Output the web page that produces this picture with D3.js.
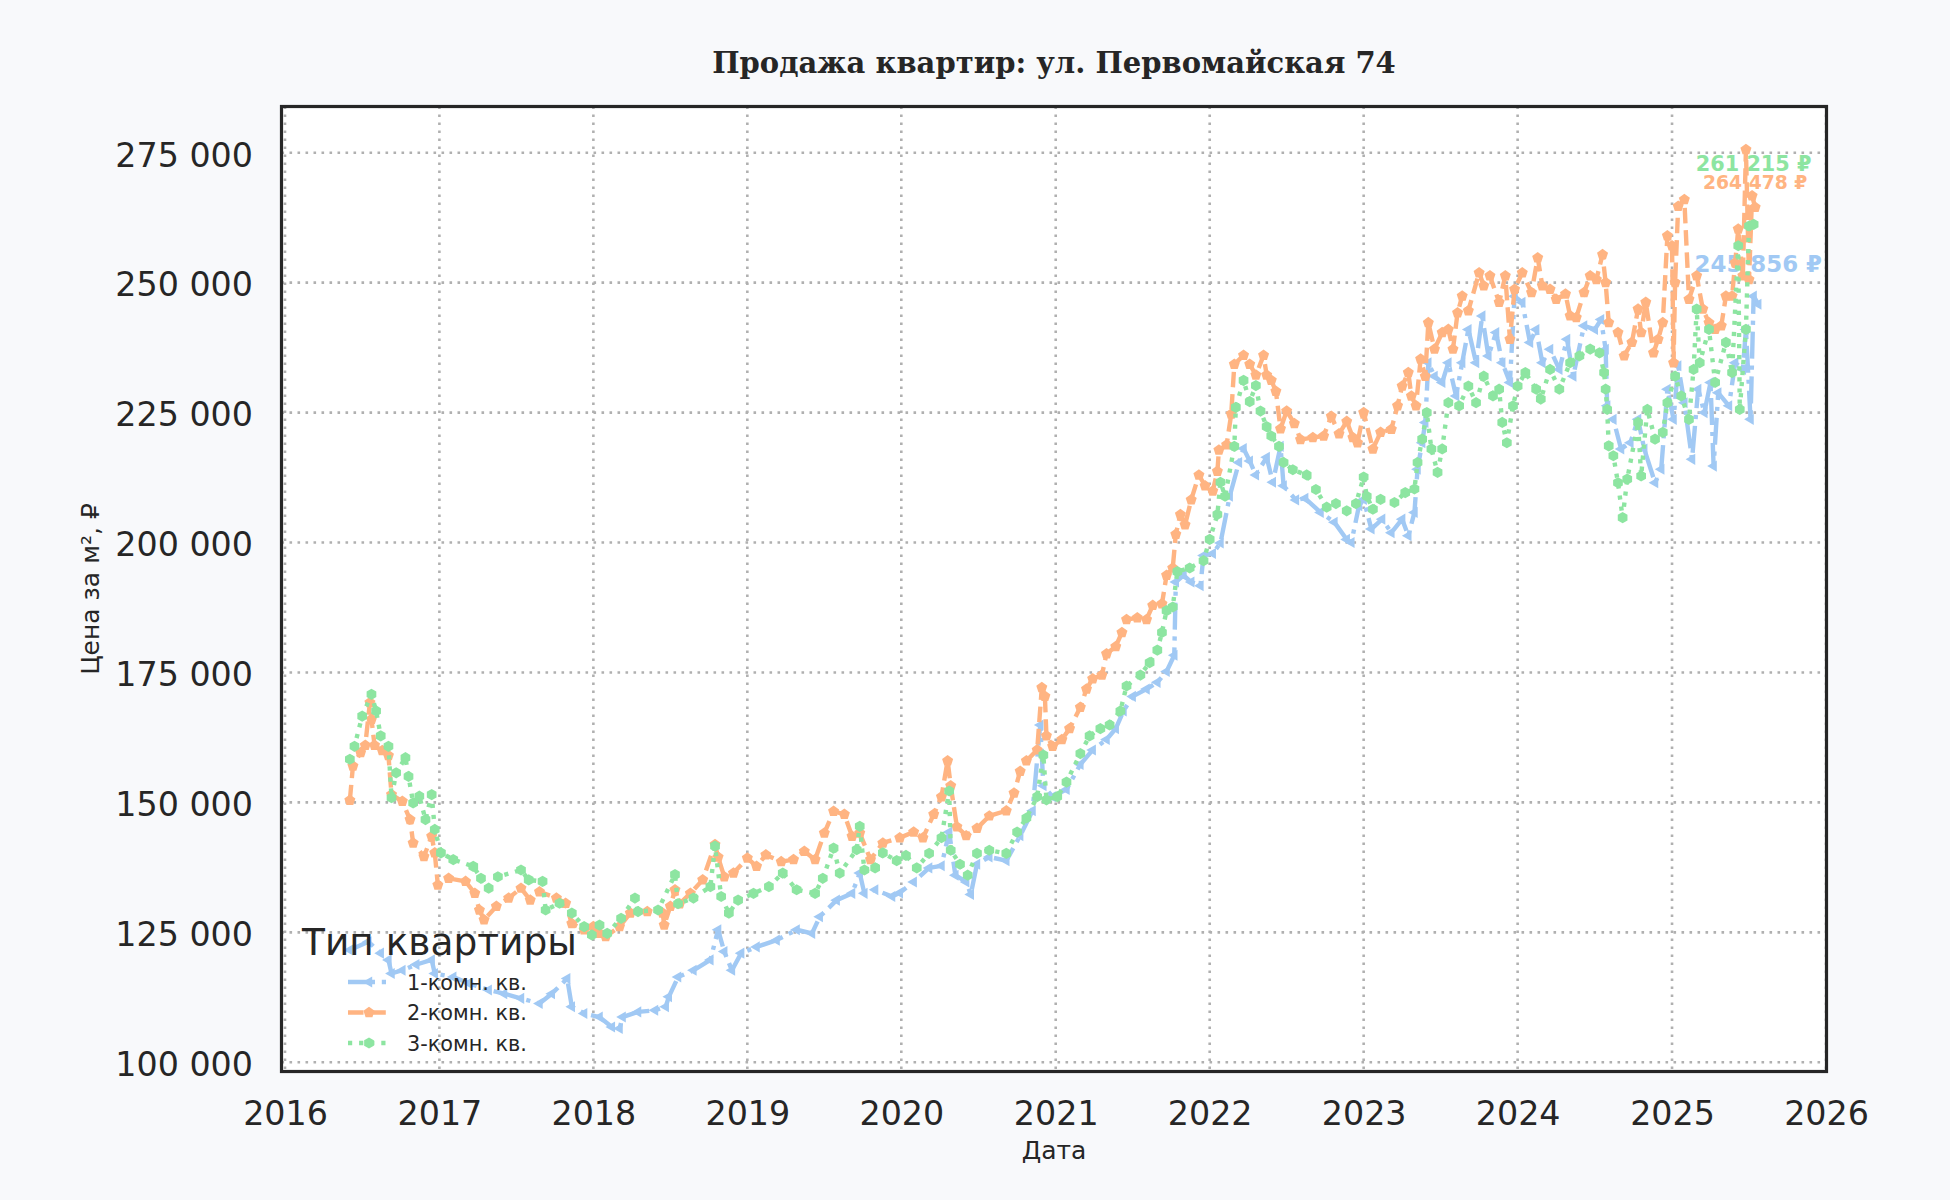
<!DOCTYPE html>
<html>
<head>
<meta charset="utf-8">
<script src="https://cdn.jsdelivr.net/npm/d3@7"></script>
<style>
    body { margin: 0; background: #f8f9fb; }
    svg { display: block; }
</style>
</head>
<body>
<div id="chart"></div>
<script>
const TITLE = "Продажа квартир: ул. Первомайская 74";
const X_LABEL = "Дата";
const Y_LABEL = "Цена за м², ₽";
const LEGEND_TITLE = "Тип квартиры";
const seriesNames = ["1-комн. кв.", "2-комн. кв.", "3-комн. кв."];
const yearTicks = [2016, 2017, 2018, 2019, 2020, 2021, 2022, 2023, 2024, 2025, 2026];
const priceTicks = [100000, 125000, 150000, 175000, 200000, 225000, 250000, 275000];

// [decimal year, price per m2]
const oneRoom = [
    [2016.42,121600],[2016.54,123200],[2016.62,121000],[2016.67,119700],[2016.69,117100],[2016.76,117700],
    [2016.85,118800],[2016.95,119700],[2016.97,117100],[2017.09,116400],[2017.19,115200],[2017.32,113900],
    [2017.42,113200],[2017.53,112300],[2017.65,111300],[2017.73,113200],[2017.83,116100],[2017.86,110700],
    [2017.94,109400],[2018.04,108700],[2018.12,106800],[2018.17,106500],[2018.19,108700],[2018.29,109700],
    [2018.40,110000],[2018.47,110700],[2018.49,112600],[2018.55,116400],[2018.65,117700],[2018.76,119700],
    [2018.81,125500],[2018.85,121300],[2018.90,117700],[2018.96,121000],[2019.06,122200],[2019.19,123500],
    [2019.32,125500],[2019.42,124800],[2019.47,128000],[2019.58,131200],[2019.68,132500],[2019.73,136400],
    [2019.76,132500],[2019.83,133200],[2019.94,131900],[2019.99,132600],[2020.08,134700],[2020.18,137400],
    [2020.26,137800],[2020.31,144300],[2020.35,136000],[2020.42,134700],[2020.45,132300],[2020.49,138100],
    [2020.57,139500],[2020.68,138800],[2020.77,143600],[2020.85,148400],[2020.90,164900],[2020.92,153200],
    [2020.98,151100],[2021.07,152500],[2021.16,157300],[2021.24,160100],[2021.33,162100],[2021.39,164200],
    [2021.44,167600],[2021.50,170400],[2021.59,171800],[2021.66,173100],[2021.72,175200],[2021.77,178300],
    [2021.78,192400],[2021.83,193700],[2021.88,192400],[2021.94,191700],[2021.96,197500],[2022.02,197900],
    [2022.07,199900],[2022.13,208900],[2022.19,215400],[2022.22,218100],[2022.26,215700],[2022.30,213000],
    [2022.37,216400],[2022.41,211600],[2022.46,218500],[2022.48,210900],[2022.56,208200],[2022.62,208500],
    [2022.72,205800],[2022.81,203900],[2022.89,200600],[2022.92,200000],[2022.97,207100],[2023.00,208300],
    [2023.05,202600],[2023.12,204500],[2023.18,201900],[2023.25,204500],[2023.29,201300],[2023.33,205800],
    [2023.35,214100],[2023.38,219200],[2023.40,223100],[2023.42,234600],[2023.46,232000],[2023.51,230800],
    [2023.55,234600],[2023.60,228200],[2023.64,234600],[2023.68,241000],[2023.73,234600],[2023.77,243600],
    [2023.81,235900],[2023.86,240400],[2023.90,234600],[2023.95,230800],[2023.98,247400],[2024.03,246200],
    [2024.08,238500],[2024.12,241000],[2024.16,234600],[2024.21,237200],[2024.27,233300],[2024.32,239100],
    [2024.36,232000],[2024.43,241700],[2024.50,241000],[2024.54,242900],[2024.57,237200],[2024.58,226300],
    [2024.62,223700],[2024.67,218000],[2024.73,219200],[2024.78,223700],[2024.82,218000],[2024.89,211500],
    [2024.93,214100],[2024.97,229500],[2025.01,223700],[2025.04,234000],[2025.08,226900],[2025.13,216000],
    [2025.17,229500],[2025.21,225000],[2025.25,230800],[2025.27,214700],[2025.30,228800],[2025.37,226300],
    [2025.41,234600],[2025.46,233300],[2025.48,241000],[2025.51,223700],[2025.53,247400],[2025.56,245856]
];

const twoRoom = [
    [2016.42,150400],[2016.44,157000],[2016.49,159600],[2016.52,161000],[2016.55,169200],[2016.56,166000],
    [2016.58,161000],[2016.63,160000],[2016.67,159000],[2016.69,151500],[2016.76,150200],[2016.81,146700],
    [2016.83,142200],[2016.90,139600],[2016.95,143500],[2016.97,140300],[2016.99,134100],[2017.06,135400],
    [2017.17,134800],[2017.23,132500],[2017.26,129300],[2017.29,127400],[2017.37,130000],[2017.45,131600],
    [2017.53,133500],[2017.59,131200],[2017.65,132800],[2017.76,131600],[2017.82,130600],[2017.86,126700],
    [2017.94,125500],[2018.00,126100],[2018.04,124800],[2018.08,124200],[2018.17,126100],[2018.24,128700],
    [2018.35,129000],[2018.45,128700],[2018.46,126400],[2018.50,130000],[2018.53,133200],[2018.56,130500],
    [2018.63,132500],[2018.71,135100],[2018.79,141900],[2018.81,139500],[2018.85,135700],[2018.91,136400],
    [2019.00,139300],[2019.06,137700],[2019.12,139900],[2019.22,138600],[2019.30,139000],[2019.37,140600],
    [2019.44,139000],[2019.50,144100],[2019.56,148300],[2019.63,147700],[2019.68,143500],[2019.73,144100],
    [2019.80,139000],[2019.88,142200],[2019.99,143200],[2020.08,144300],[2020.14,143200],[2020.21,147700],
    [2020.26,151100],[2020.30,158000],[2020.32,153200],[2020.36,145300],[2020.42,143600],[2020.49,145000],
    [2020.57,147400],[2020.68,148400],[2020.73,151800],[2020.77,156000],[2020.81,158000],[2020.88,160100],
    [2020.91,172100],[2020.93,170400],[2020.94,162800],[2020.98,160800],[2021.04,162100],[2021.09,164200],
    [2021.16,168300],[2021.20,171800],[2021.24,173800],[2021.30,174500],[2021.33,178600],[2021.39,180000],
    [2021.43,182700],[2021.46,185200],[2021.53,185500],[2021.59,185200],[2021.63,187900],[2021.69,188200],
    [2021.72,193700],[2021.76,195100],[2021.78,201600],[2021.81,205400],[2021.84,203400],[2021.88,208200],
    [2021.93,213000],[2021.97,210900],[2022.02,209900],[2022.05,213700],[2022.06,217800],[2022.11,218800],
    [2022.14,224700],[2022.16,234300],[2022.22,236000],[2022.26,234300],[2022.30,232200],[2022.35,236000],
    [2022.37,232200],[2022.40,231200],[2022.43,229100],[2022.46,221900],[2022.50,225300],[2022.55,222900],
    [2022.59,219800],[2022.67,220200],[2022.74,220500],[2022.79,224300],[2022.84,220900],[2022.89,223300],
    [2022.93,220200],[2022.96,219200],[2023.00,225000],[2023.06,218000],[2023.11,221200],[2023.18,221800],
    [2023.22,226300],[2023.25,230100],[2023.29,232700],[2023.31,228200],[2023.34,226300],[2023.37,235300],
    [2023.40,232000],[2023.42,242300],[2023.46,237200],[2023.51,240400],[2023.55,241000],[2023.58,237200],
    [2023.61,244200],[2023.64,247400],[2023.68,244600],[2023.75,251900],[2023.78,249400],[2023.82,251300],
    [2023.88,246200],[2023.92,251300],[2023.95,239100],[2023.98,248700],[2024.03,251900],[2024.09,248100],
    [2024.13,254800],[2024.16,249400],[2024.21,248700],[2024.25,246800],[2024.31,247800],[2024.34,243600],
    [2024.38,243300],[2024.43,248100],[2024.47,251300],[2024.51,250600],[2024.55,255400],[2024.57,250000],
    [2024.59,242300],[2024.65,240400],[2024.69,235900],[2024.74,238500],[2024.78,244900],[2024.80,240400],
    [2024.83,246200],[2024.88,236500],[2024.91,239100],[2024.94,242300],[2024.97,259000],[2025.00,257100],
    [2025.01,234600],[2025.02,250000],[2025.04,264700],[2025.08,266000],[2025.11,246800],[2025.16,251300],
    [2025.20,244900],[2025.24,242300],[2025.28,241000],[2025.32,241700],[2025.35,247400],[2025.39,247400],
    [2025.41,253800],[2025.43,260300],[2025.46,251300],[2025.48,275600],[2025.50,250600],[2025.52,266700],
    [2025.54,264478]
];

const threeRoom = [
    [2016.42,158300],[2016.45,160800],[2016.50,166600],[2016.56,170800],[2016.59,167600],[2016.62,162800],
    [2016.67,160800],[2016.69,150900],[2016.72,155700],[2016.78,158600],[2016.80,155000],[2016.83,149900],
    [2016.87,151200],[2016.91,146700],[2016.95,151500],[2016.97,144800],[2017.01,140300],[2017.09,139000],
    [2017.22,137700],[2017.27,135400],[2017.32,133500],[2017.38,135700],[2017.53,137000],[2017.58,135100],
    [2017.67,134800],[2017.69,129300],[2017.78,130600],[2017.86,128700],[2017.94,126100],[2017.99,124500],
    [2018.04,126400],[2018.09,124800],[2018.18,127700],[2018.27,131600],[2018.29,129000],[2018.42,129300],
    [2018.53,136100],[2018.55,130500],[2018.65,131600],[2018.76,133800],[2018.79,141600],[2018.83,131900],
    [2018.88,128700],[2018.94,131200],[2019.04,132500],[2019.14,133800],[2019.23,136400],[2019.32,133200],
    [2019.44,132500],[2019.49,135400],[2019.56,141200],[2019.60,136400],[2019.71,140900],[2019.73,145400],
    [2019.76,137000],[2019.83,137400],[2019.88,140300],[2019.97,138800],[2020.03,139800],[2020.10,137400],
    [2020.18,140200],[2020.26,143200],[2020.31,152200],[2020.32,140800],[2020.38,138100],[2020.43,136000],
    [2020.49,140200],[2020.57,140800],[2020.68,140200],[2020.75,144300],[2020.81,147000],[2020.88,151100],
    [2020.92,159100],[2020.94,150500],[2021.01,151100],[2021.07,153900],[2021.16,159400],[2021.22,162800],
    [2021.29,164200],[2021.35,164900],[2021.42,167600],[2021.46,172400],[2021.55,174500],[2021.61,176900],
    [2021.66,179300],[2021.69,182700],[2021.72,186900],[2021.76,187600],[2021.79,194400],[2021.87,195100],
    [2021.96,196500],[2022.00,200600],[2022.05,205400],[2022.07,211600],[2022.10,208900],[2022.16,218500],
    [2022.17,226000],[2022.22,231200],[2022.26,227100],[2022.30,230200],[2022.33,225300],[2022.37,222300],
    [2022.40,220500],[2022.45,218500],[2022.48,215400],[2022.54,214000],[2022.63,213000],[2022.69,210200],
    [2022.76,206800],[2022.82,207500],[2022.89,206100],[2022.95,207500],[2023.00,212600],[2023.02,208900],
    [2023.06,206400],[2023.11,208300],[2023.20,207700],[2023.27,209600],[2023.33,210300],[2023.35,215400],
    [2023.38,219900],[2023.41,225000],[2023.44,218000],[2023.48,213500],[2023.51,218000],[2023.55,226900],
    [2023.62,226300],[2023.68,230100],[2023.73,226900],[2023.78,232000],[2023.84,228200],[2023.88,229500],
    [2023.90,223100],[2023.93,219200],[2023.97,226300],[2024.00,230100],[2024.05,232700],[2024.12,229500],
    [2024.15,227600],[2024.21,233300],[2024.27,229500],[2024.34,234600],[2024.40,235900],[2024.47,237200],
    [2024.53,236500],[2024.56,232700],[2024.57,229500],[2024.58,225600],[2024.59,218600],[2024.62,216700],
    [2024.65,211500],[2024.68,204800],[2024.71,212200],[2024.78,223100],[2024.80,212800],[2024.84,225600],
    [2024.89,219900],[2024.94,221200],[2024.97,226900],[2025.02,232000],[2025.06,228200],[2025.11,223700],
    [2025.14,233300],[2025.16,244900],[2025.18,234600],[2025.24,241000],[2025.28,230800],[2025.35,238500],
    [2025.39,232700],[2025.43,257100],[2025.44,225600],[2025.48,241000],[2025.50,260900],[2025.53,261215]
];

const COLORS = ["#a1c9f4", "#ffb482", "#8de5a1"];
const DASHES = ["27 6.8 4.2 6.8", "15.5 6.8", "4.2 6.9"];
const MARKERS = ["triangleLeft", "pentagon", "hexagon"];
// label styling for the last-value annotations (font px, vertical shift px)
const LAST_LABEL = [
    { size: 22.9, shift: -40 },
    { size: 18.75, shift: -25 },
    { size: 20.8, shift: -61 }
];
const TEXT_COLOR = "#262626";

const width = 1950;
const height = 1200;
const frame = { left: 281.5, top: 106.5, right: 1826.5, bottom: 1071.5 };

function toDate(t) {
    const yr = Math.floor(t);
    const a = Date.UTC(yr, 0, 1), b = Date.UTC(yr + 1, 0, 1);
    return new Date(a + (t - yr) * (b - a));
}

const ru = d3.formatLocale({ decimal: ",", thousands: "\u00a0", grouping: [3], currency: ["", " ₽"] });
const fmt = ru.format(",d");

const x = d3.scaleUtc()
    .domain([toDate(2016), toDate(2026)])
    .range([285, 1826]);

const y = d3.scaleLinear()
    .domain([100000, 275000])
    .range([1062.3, 152.7]);

function polygon(n, r, start) {
    const pts = d3.range(n).map(i => {
        const a = start + i * 2 * Math.PI / n;
        return [r * Math.cos(a), r * Math.sin(a)];
    });
    return "M" + pts.map(p => p[0].toFixed(2) + "," + p[1].toFixed(2)).join("L") + "Z";
}

const markerPath = {
    triangleLeft: polygon(3, 6.4, Math.PI),
    pentagon: polygon(5, 5.8, -Math.PI / 2),
    hexagon: polygon(6, 5.6, -Math.PI / 2)
};

const svg = d3.select("#chart")
    .append("svg")
    .attr("width", width)
    .attr("height", height)
    .style("font-family", "DejaVu Sans");

svg.append("rect")
    .attr("width", width)
    .attr("height", height)
    .attr("fill", "#f8f9fb");

svg.append("rect")
    .attr("x", frame.left)
    .attr("y", frame.top)
    .attr("width", frame.right - frame.left)
    .attr("height", frame.bottom - frame.top)
    .attr("fill", "#ffffff");

// grid
const grid = svg.append("g")
    .attr("stroke", "#b0b0b0")
    .attr("stroke-width", 2.6)
    .attr("stroke-dasharray", "2.6 5.4");

grid.selectAll("line.v")
    .data(yearTicks)
    .join("line")
    .attr("class", "v")
    .attr("x1", d => x(toDate(d)))
    .attr("x2", d => x(toDate(d)))
    .attr("y1", frame.top)
    .attr("y2", frame.bottom);

grid.selectAll("line.h")
    .data(priceTicks)
    .join("line")
    .attr("class", "h")
    .attr("x1", frame.left)
    .attr("x2", frame.right)
    .attr("y1", d => y(d))
    .attr("y2", d => y(d));

// axes (labels only, no tick marks)
const xAxis = d3.axisBottom(x)
    .tickValues(yearTicks.map(toDate))
    .tickFormat(d3.utcFormat("%Y"))
    .tickSize(0)
    .tickPadding(0);

svg.append("g")
    .attr("transform", "translate(0," + 1101 + ")")
    .call(xAxis)
    .call(g => g.select(".domain").remove())
    .selectAll("text")
    .attr("fill", TEXT_COLOR)
    .attr("font-family", "DejaVu Sans")
    .attr("font-size", 33.3)
    .attr("dy", "0.72em");

const yAxis = d3.axisLeft(y)
    .tickValues(priceTicks)
    .tickFormat(fmt)
    .tickSize(0)
    .tickPadding(0);

svg.append("g")
    .attr("transform", "translate(" + 253 + ",0)")
    .call(yAxis)
    .call(g => g.select(".domain").remove())
    .selectAll("text")
    .attr("fill", TEXT_COLOR)
    .attr("font-family", "DejaVu Sans")
    .attr("font-size", 33.3)
    .attr("dy", "0.40em");

svg.append("text")
    .attr("x", 1054)
    .attr("y", 1159)
    .attr("text-anchor", "middle")
    .attr("font-size", 25)
    .attr("fill", TEXT_COLOR)
    .text(X_LABEL);

svg.append("text")
    .attr("transform", "translate(" + 99 + "," + 589 + ") rotate(-90)")
    .attr("text-anchor", "middle")
    .attr("font-size", 25)
    .attr("fill", TEXT_COLOR)
    .text(Y_LABEL);

svg.append("text")
    .attr("x", 1054)
    .attr("y", 73)
    .attr("text-anchor", "middle")
    .attr("font-family", "DejaVu Serif")
    .attr("font-weight", "bold")
    .attr("font-size", 29)
    .attr("fill", TEXT_COLOR)
    .text(TITLE);

const allSeries = [oneRoom, twoRoom, threeRoom];

// last value labels (sit under the lines)
svg.append("g")
    .selectAll("text")
    .data(allSeries)
    .join("text")
    .attr("x", d => x(toDate(d[d.length - 1][0])))
    .attr("y", (d, i) => y(d[d.length - 1][1]) + LAST_LABEL[i].shift)
    .attr("dy", "0.36em")
    .attr("text-anchor", "middle")
    .attr("font-weight", "bold")
    .attr("font-size", (d, i) => LAST_LABEL[i].size)
    .attr("fill", (d, i) => COLORS[i])
    .text(d => ru.format("$,d")(d[d.length - 1][1]));

const line = d3.line()
    .x(d => x(toDate(d[0])))
    .y(d => y(d[1]));

allSeries.forEach((data, i) => {
    const g = svg.append("g").attr("class", "series");
    g.append("path")
        .datum(data)
        .attr("d", line)
        .attr("fill", "none")
        .attr("stroke", COLORS[i])
        .attr("stroke-width", 4.4)
        .attr("stroke-dasharray", DASHES[i])
        .attr("stroke-linejoin", "round");
    g.selectAll("path.m")
        .data(data)
        .join("path")
        .attr("class", "m")
        .attr("d", markerPath[MARKERS[i]])
        .attr("transform", d => "translate(" + x(toDate(d[0])) + "," + y(d[1]) + ")")
        .attr("fill", COLORS[i]);
});

// legend
const legend = svg.append("g");

legend.append("text")
    .attr("x", 302)
    .attr("y", 955)
    .attr("font-size", 37.5)
    .attr("fill", TEXT_COLOR)
    .text(LEGEND_TITLE);

const rows = legend.selectAll("g.row")
    .data(seriesNames)
    .join("g")
    .attr("class", "row")
    .attr("transform", (d, i) => "translate(0," + (982 + i * 30.5) + ")");

rows.append("line")
    .attr("x1", 348)
    .attr("x2", 390)
    .attr("stroke", (d, i) => COLORS[i])
    .attr("stroke-width", 4.4)
    .attr("stroke-dasharray", (d, i) => DASHES[i]);

rows.append("path")
    .attr("d", (d, i) => markerPath[MARKERS[i]])
    .attr("transform", "translate(369,0)")
    .attr("fill", (d, i) => COLORS[i]);

rows.append("text")
    .attr("x", 407)
    .attr("dy", "0.36em")
    .attr("font-size", 20.8)
    .attr("fill", TEXT_COLOR)
    .text(d => d);

// frame on top
svg.append("rect")
    .attr("x", frame.left)
    .attr("y", frame.top)
    .attr("width", frame.right - frame.left)
    .attr("height", frame.bottom - frame.top)
    .attr("fill", "none")
    .attr("stroke", "#262626")
    .attr("stroke-width", 3.2);
</script>
</body>
</html>
